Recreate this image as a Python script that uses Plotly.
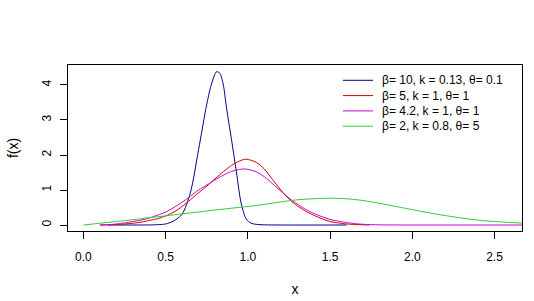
import plotly.graph_objects as go

# ---- data ----
blue_x = [0.15, 0.30, 0.40, 0.45, 0.50, 0.55, 0.60, 0.65, 0.70, 0.75, 0.78, 0.81, 0.83,
          0.85, 0.87, 0.90, 0.93, 0.96, 0.99, 1.02, 1.05, 1.10, 1.20, 1.60]
blue_y = [0.0, 0.0, 0.002, 0.01, 0.03, 0.12, 0.31, 0.92, 2.15, 3.45, 4.05, 4.38, 4.33,
          4.02, 3.35, 2.45, 1.52, 0.60, 0.17, 0.05, 0.02, 0.005, 0.0, 0.0]

red_x = [0.10, 0.15, 0.20, 0.25, 0.30, 0.35, 0.40, 0.45, 0.50, 0.55, 0.60, 0.65, 0.70,
         0.75, 0.80, 0.85, 0.90, 0.95, 0.99, 1.05, 1.10, 1.15, 1.20, 1.25, 1.30, 1.35,
         1.40, 1.45, 1.50, 1.55, 1.60, 1.65, 1.74]
red_y = [0.0, 0.005, 0.015, 0.03, 0.05, 0.08, 0.13, 0.18, 0.26, 0.37, 0.53, 0.72, 0.92,
         1.11, 1.32, 1.52, 1.70, 1.83, 1.88, 1.79, 1.60, 1.30, 1.00, 0.74, 0.55, 0.40,
         0.28, 0.18, 0.10, 0.06, 0.03, 0.015, 0.0]

mag_x = [0.10, 0.15, 0.20, 0.25, 0.30, 0.35, 0.40, 0.45, 0.50, 0.55, 0.60, 0.65, 0.70,
         0.75, 0.80, 0.85, 0.90, 0.95, 0.975, 1.00, 1.05, 1.10, 1.15, 1.20, 1.25, 1.30,
         1.35, 1.40, 1.45, 1.50, 1.55, 1.60, 1.65, 1.70, 1.80, 2.00, 2.70]
mag_y = [0.0, 0.01, 0.03, 0.06, 0.10, 0.14, 0.20, 0.28, 0.37, 0.50, 0.65, 0.82, 1.00,
         1.14, 1.29, 1.42, 1.53, 1.59, 1.60, 1.59, 1.52, 1.38, 1.18, 0.97, 0.77, 0.60,
         0.45, 0.33, 0.24, 0.16, 0.11, 0.07, 0.04, 0.02, 0.005, 0.0, 0.0]

green_x = [0.0, 0.1, 0.2, 0.3, 0.4, 0.5, 0.6, 0.7, 0.8, 0.9, 1.0, 1.1, 1.2, 1.3, 1.4,
           1.5, 1.6, 1.7, 1.8, 1.9, 2.0, 2.1, 2.2, 2.3, 2.4, 2.5, 2.6, 2.7]
green_y = [0.0, 0.05, 0.10, 0.15, 0.21, 0.26, 0.32, 0.37, 0.43, 0.48, 0.53, 0.59, 0.66,
           0.72, 0.75, 0.765, 0.75, 0.70, 0.62, 0.53, 0.44, 0.35, 0.27, 0.20, 0.14,
           0.10, 0.07, 0.05]

labels = ["β= 10, k = 0.13, θ= 0.1", "β= 5, k = 1, θ= 1",
          "β= 4.2, k = 1, θ= 1", "β= 2, k = 0.8, θ= 5"]
colors = ["#00008B", "#CD0000", "#CD00CD", "#32CD32"]
x_ticks = [0.0, 0.5, 1.0, 1.5, 2.0, 2.5]
y_ticks = [0, 1, 2, 3, 4]

series = [(blue_x, blue_y), (red_x, red_y), (mag_x, mag_y), (green_x, green_y)]

FONT = "Liberation Sans, Arial, sans-serif"
fig = go.Figure()
for (xs, ys), lab, col in zip(series, labels, colors):
    fig.add_trace(go.Scatter(x=xs, y=ys, mode="lines", name=lab, showlegend=False,
                             line=dict(color=col, width=1, shape="spline",
                                       smoothing=0.8)))

# legend (R-style, no box): sample line + label per series, in paper coordinates
PLOT_L, PLOT_W, PLOT_B, PLOT_H = 68, 454, 231, 166
def px_x(p):
    return (p - PLOT_L) / PLOT_W
def px_y(p):
    return (PLOT_B - p) / PLOT_H

row_y = [80.3, 95.6, 110.9, 126.2]
for lab, col, ry in zip(labels, colors, row_y):
    fig.add_shape(type="line", xref="paper", yref="paper",
                  x0=px_x(343), x1=px_x(373), y0=px_y(ry), y1=px_y(ry),
                  line=dict(color=col, width=1))
    fig.add_annotation(xref="paper", yref="paper", x=px_x(380), y=px_y(ry),
                       xanchor="left", yanchor="middle", showarrow=False,
                       text=lab, font=dict(family=FONT, size=12, color="black"))

fig.update_layout(
    width=534, height=301,
    margin=dict(l=68, r=12, t=65, b=70, autoexpand=False),
    paper_bgcolor="white", plot_bgcolor="white",
    font=dict(family=FONT, size=12, color="black"),
    showlegend=False,
    xaxis=dict(range=[-0.094, 2.667], tickvals=x_ticks,
               ticktext=[f"{v:.1f}" for v in x_ticks],
               ticks="outside", ticklen=7, tickcolor="black",
               showline=True, linecolor="black", linewidth=1, mirror=True,
               showgrid=False, zeroline=False, automargin=False,
               title=dict(text="x", standoff=20),
               ticklabelstandoff=8),
    yaxis=dict(range=[-0.171, 4.571], tickvals=y_ticks,
               ticktext=[str(v) for v in y_ticks],
               ticks="outside", ticklen=7, tickcolor="black", tickangle=-90,
               showline=True, linecolor="black", linewidth=1, mirror=True,
               showgrid=False, zeroline=False, automargin=False,
               title=dict(text="f(x)", standoff=18),
               ticklabelstandoff=4),
)

fig.write_html("out.html", config={"displayModeBar": False},
               post_script="document.body.style.margin='0';document.body.style.padding='0';")
